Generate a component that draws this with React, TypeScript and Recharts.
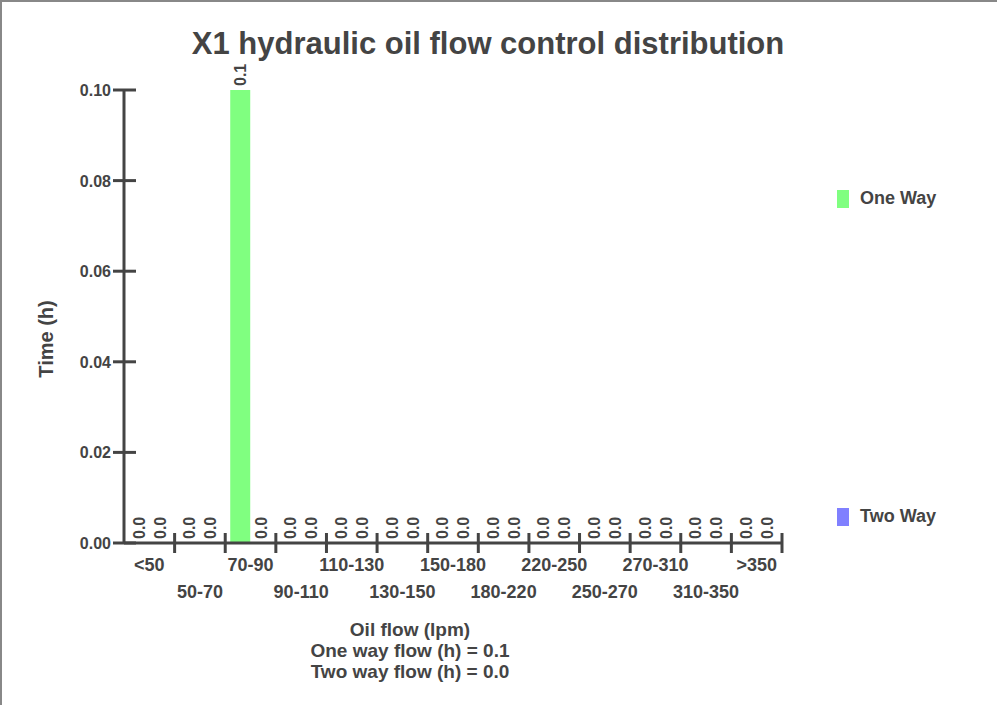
import { BarChart, Bar, XAxis, YAxis } from 'recharts';

const categories = ['<50', '50-70', '70-90', '90-110', '110-130', '130-150', '150-180', '180-220', '220-250', '250-270', '270-310', '310-350', '>350'];
const oneWay = [0, 0, 0.1, 0, 0, 0, 0, 0, 0, 0, 0, 0, 0];
const twoWay = [0, 0, 0, 0, 0, 0, 0, 0, 0, 0, 0, 0, 0];
const yTicks = [0, 0.02, 0.04, 0.06, 0.08, 0.1];

const data = categories.map((c, i) => ({ name: c, oneWay: oneWay[i], twoWay: twoWay[i] }));

const FONT = '"Liberation Sans", Arial, Helvetica, sans-serif';
const INK = '#444';
const W = 997;
const H = 705;
const PLOT_LEFT = 124;
const PLOT_RIGHT = 782;
const BAND = (PLOT_RIGHT - PLOT_LEFT) / categories.length;

function XTick(props: any) {
    const { x, y, payload, index } = props;
    const row = index % 2 === 0 ? 0 : 1;
    return (
        <g>
            <line x1={x + BAND / 2} x2={x + BAND / 2} y1={y - 10} y2={y + 10} stroke={INK} strokeWidth={3} />
            <text x={x} y={y + 28 + row * 27} textAnchor="middle" fontSize={18} fontWeight="bold" fill={INK} fontFamily={FONT}>
                {payload.value}
            </text>
        </g>
    );
}

function YTick(props: any) {
    const { x, y, payload } = props;
    return (
        <g>
            <line x1={x - 11} x2={x + 12} y1={y} y2={y} stroke={INK} strokeWidth={3} />
            <text x={x - 13} y={y} dy={6} textAnchor="end" fontSize={16} fontWeight="bold" fill={INK} fontFamily={FONT}>
                {payload.value.toFixed(2)}
            </text>
        </g>
    );
}

// bar + rotated value label; zero bars still get their "0.0"
function BarWithValue(props: any) {
    const { x, y, width, height, fill, value } = props;
    const v = Array.isArray(value) ? value[1] - value[0] : Number(value);
    const bottom = y + height;
    const top = v > 0 ? y : bottom;
    const cx = x + width / 2;
    const cy = top - 4;
    return (
        <g>
            {v > 0 && <rect x={x} y={y} width={width} height={height} fill={fill} />}
            <text x={cx} y={cy} transform={`rotate(-90, ${cx}, ${cy})`} textAnchor="start" dominantBaseline="central"
                fontSize={16} fontWeight="bold" fill={INK} fontFamily={FONT}>
                {v.toFixed(1)}
            </text>
        </g>
    );
}

function XTitle() {
    const cx = 410;
    return (
        <text textAnchor="middle" fontSize={19} fontWeight="bold" fill={INK} fontFamily={FONT}>
            <tspan x={cx} y={636}>Oil flow (lpm)</tspan>
            <tspan x={cx} y={657}>One way flow (h) = 0.1</tspan>
            <tspan x={cx} y={678}>Two way flow (h) = 0.0</tspan>
        </text>
    );
}

function YTitle() {
    return (
        <text x={46} y={339} transform="rotate(-90, 46, 339)" textAnchor="middle" dominantBaseline="central"
            fontSize={20} fontWeight="bold" fill={INK} fontFamily={FONT}>
            Time (h)
        </text>
    );
}

const legendItem = (top: number, color: string, label: string) => (
    <div style={{ position: 'absolute', left: 837, top, display: 'flex', alignItems: 'center', fontFamily: FONT, fontWeight: 'bold', fontSize: 18, color: INK }}>
        <span style={{ display: 'inline-block', width: 12, height: 18, background: color, marginRight: 11 }} />
        {label}
    </div>
);

export default function App() {
    return (
        <div style={{ position: 'fixed', left: 0, top: 0, width: W, height: H, overflow: 'hidden', background: '#fff' }}>
            <BarChart width={W} height={H} data={data} margin={{ top: 90, right: W - PLOT_RIGHT, bottom: 102, left: 0 }}
                barGap={1} barSize={20}>
                <text x={488} y={54} textAnchor="middle" fontSize={31} fontWeight="bold" fill={INK} fontFamily={FONT}>
                    X1 hydraulic oil flow control distribution
                </text>
                <XAxis dataKey="name" interval={0} height={60} tickSize={0} tickMargin={0} tickLine={false}
                    axisLine={{ stroke: INK, strokeWidth: 3 }} tick={<XTick />} label={<XTitle />} />
                <YAxis width={PLOT_LEFT} domain={[0, 0.1]} ticks={yTicks} tickSize={0} tickMargin={0} tickLine={false}
                    axisLine={{ stroke: INK, strokeWidth: 3 }} tick={<YTick />} label={<YTitle />} />
                <Bar dataKey="oneWay" name="One Way" fill="#80FF80" minPointSize={1} shape={<BarWithValue />} isAnimationActive={false} />
                <Bar dataKey="twoWay" name="Two Way" fill="#8080FF" minPointSize={1} shape={<BarWithValue />} isAnimationActive={false} />
            </BarChart>
            {legendItem(188, '#80FF80', 'One Way')}
            {legendItem(506, '#8080FF', 'Two Way')}
            <div style={{ position: 'absolute', left: 0, top: 0, width: 1400, height: 1000, borderTop: '2px solid #888', borderLeft: '2px solid #888', zIndex: 10, pointerEvents: 'none' }} />
        </div>
    );
}
